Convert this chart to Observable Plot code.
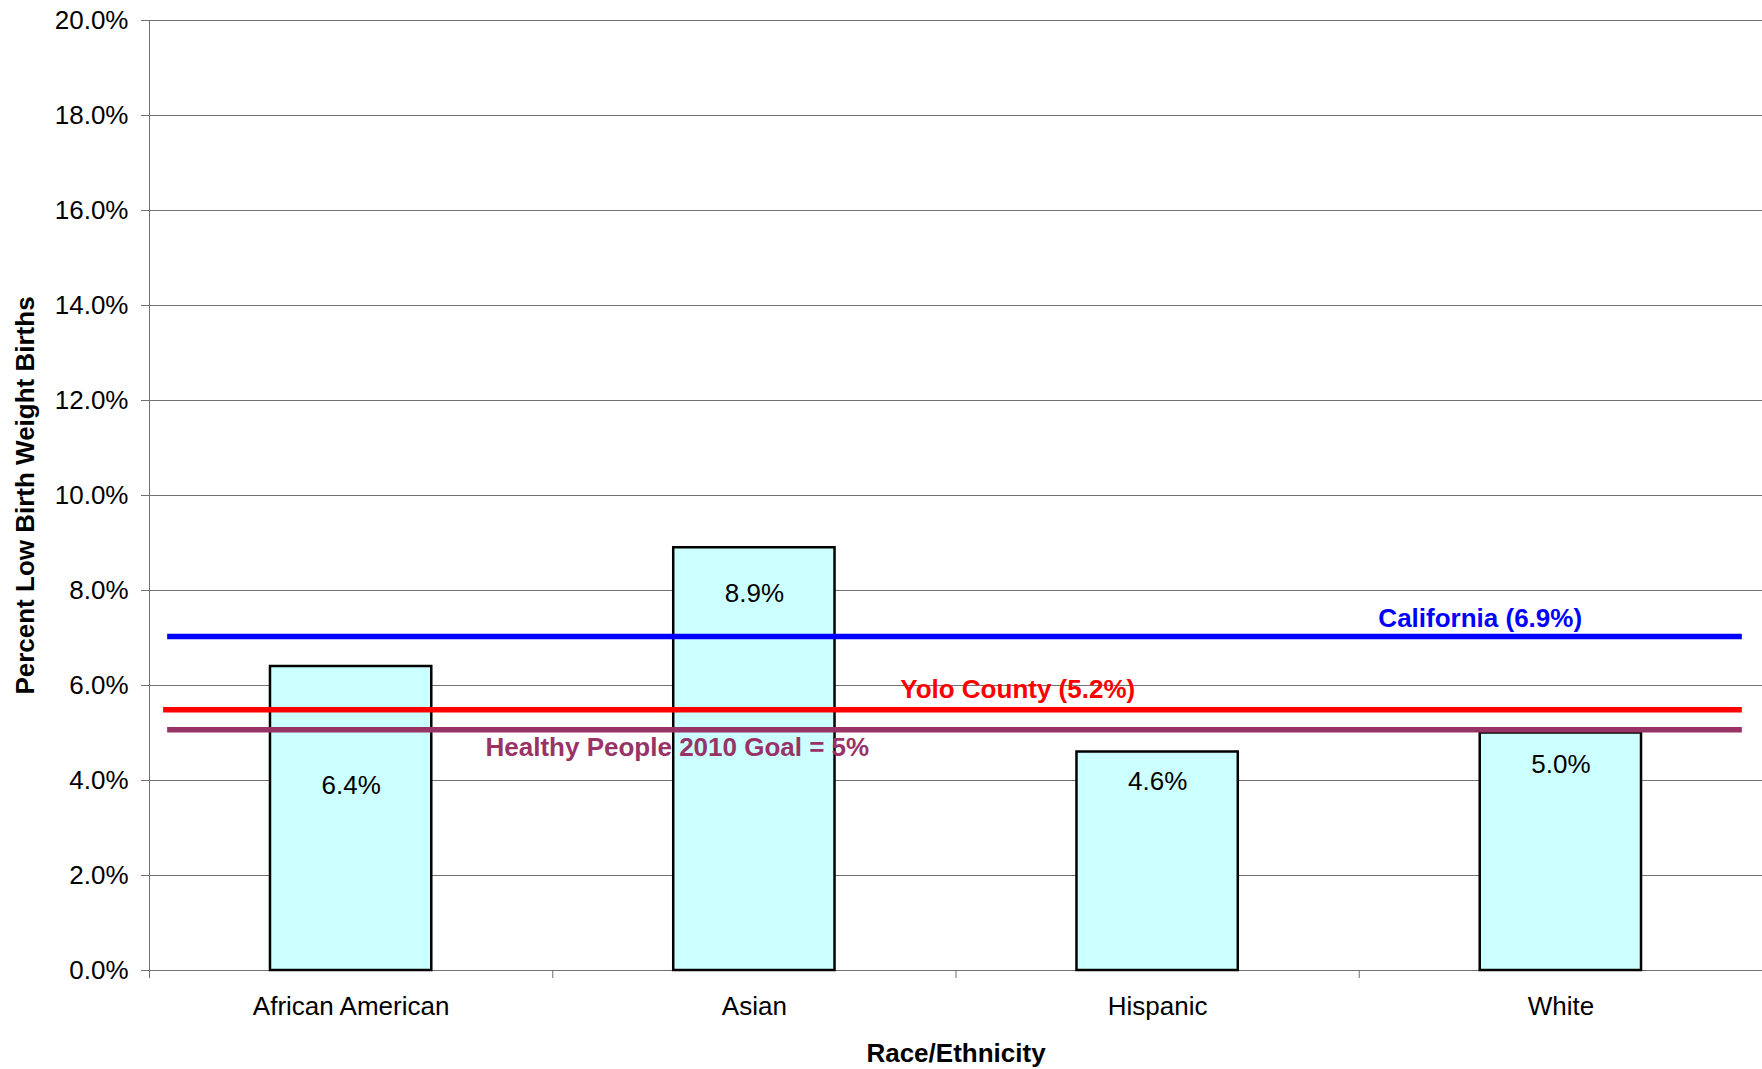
<!DOCTYPE html>
<html>
<head>
<meta charset="utf-8">
<script src="https://cdn.jsdelivr.net/npm/d3@7"></script>
<script src="https://cdn.jsdelivr.net/npm/@observablehq/plot@0.6"></script>
<style>
  html, body { margin: 0; padding: 0; background: #fff; }
  #chart svg { display: block; font-family: "Liberation Sans", Arial, sans-serif; }
</style>
</head>
<body>
<div id="chart"></div>
<script>
// ---- data ----
const categories = ["African American", "Asian", "Hispanic", "White"];
const values = [6.4, 8.9, 4.6, 5.0];
const valueLabels = ["6.4%", "8.9%", "4.6%", "5.0%"];

const refNames = ["California (6.9%)", "Yolo County (5.2%)", "Healthy People 2010 Goal = 5%"];
const refValues = [7.03, 5.49, 5.07]; // where the lines are drawn in the picture
const refColors = ["#0000FF", "#FF0000", "#993366"];

const yTicks = [0, 2, 4, 6, 8, 10, 12, 14, 16, 18, 20];
const yTickLabels = ["0.0%", "2.0%", "4.0%", "6.0%", "8.0%", "10.0%", "12.0%", "14.0%", "16.0%", "18.0%", "20.0%"];

const yTitle = "Percent Low Birth Weight Births";
const xTitle = "Race/Ethnicity";

// ---- tables built from the arrays ----
const bars = categories.map((c, i) => ({category: c, index: i, value: values[i], label: valueLabels[i]}));
const refs = refNames.map((n, i) => ({name: n, value: refValues[i], color: refColors[i]}));

// label anchors (in chart units) for the annotation marks
const barLabelY = [3.89, 7.94, 3.98, 4.34];
const refLineX1 = [0.045, 0.035, 0.045];
const refLabelX = [3.30, 2.153, 1.309];
const refLabelY = [7.41, 5.92, 4.69];

const FS = 26;
const grid = "#707070";

const chart = Plot.plot({
  width: 1762,
  height: 1069,
  marginLeft: 149,
  marginRight: 0,
  marginTop: 20,
  marginBottom: 99,
  style: {fontFamily: '"Liberation Sans", Arial, sans-serif', background: "#fff"},
  x: {type: "linear", domain: [0, 4]},
  y: {type: "linear", domain: [0, 20]},
  marks: [
    Plot.gridY(yTicks, {stroke: grid, strokeOpacity: 1, strokeWidth: 1}),
    Plot.axisY(yTicks, {
      tickFormat: (d) => yTickLabels[yTicks.indexOf(d)],
      tickSize: 8, tickPadding: 13, fontSize: FS,
      stroke: grid, fill: "black", label: null
    }),
    Plot.axisX([0, 1, 2, 3, 4], {tickFormat: () => "", tickSize: 8, stroke: grid, label: null}),
    Plot.ruleX([0], {stroke: grid, insetBottom: -8}),
    Plot.ruleY([0], {stroke: grid}),
    Plot.rectY(bars, {
      x1: (d) => d.index + 0.3,
      x2: (d) => d.index + 0.7,
      y1: 0,
      y2: "value",
      fill: "#CCFFFF",
      stroke: "black",
      strokeWidth: 2.5
    }),
    Plot.text(bars, {
      x: (d) => d.index + 0.5,
      y: (d) => barLabelY[d.index],
      text: "label",
      fontSize: FS,
      fill: "black"
    }),
    Plot.ruleY(refs, {
      y: "value",
      x1: (d, i) => refLineX1[i],
      x2: 3.95,
      stroke: "color",
      strokeWidth: 5.5
    }),
    Plot.text(refs, {
      x: (d, i) => refLabelX[i],
      y: (d, i) => refLabelY[i],
      text: "name",
      fill: "color",
      fontSize: FS,
      fontWeight: "bold"
    }),
    Plot.text(bars, {
      x: (d) => d.index + 0.5,
      y: 0,
      dy: 36,
      text: "category",
      fontSize: FS,
      fill: "black"
    }),
    Plot.text([xTitle], {
      frameAnchor: "bottom",
      lineAnchor: "middle",
      dy: 83,
      text: (d) => d,
      fontSize: FS,
      fontWeight: "bold",
      fill: "black"
    }),
    Plot.text([yTitle], {
      frameAnchor: "left",
      textAnchor: "middle",
      lineAnchor: "middle",
      dx: -124,
      rotate: -90,
      text: (d) => d,
      fontSize: FS,
      fontWeight: "bold",
      fill: "black"
    })
  ]
});

document.getElementById("chart").appendChild(chart);
</script>
</body>
</html>
